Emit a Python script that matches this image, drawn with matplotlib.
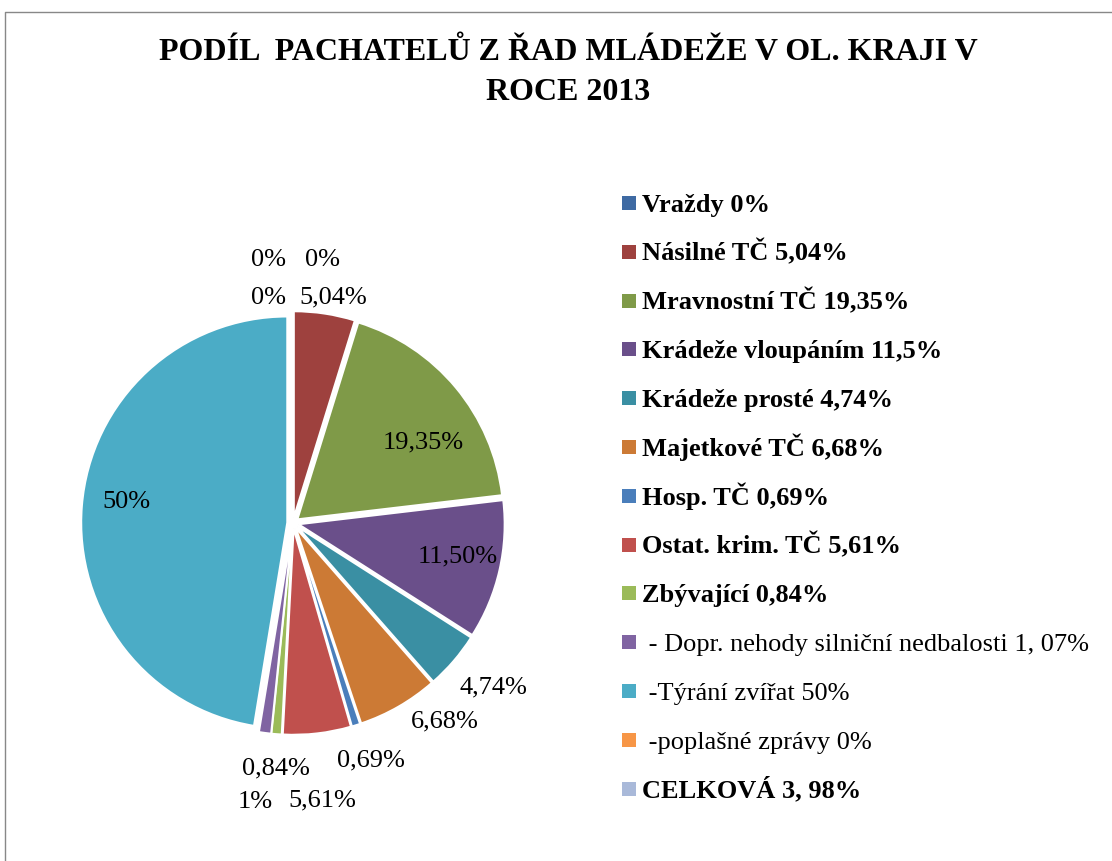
import numpy as np
import matplotlib
matplotlib.use("Agg")
import matplotlib.pyplot as plt
from matplotlib.lines import Line2D
from matplotlib.patches import Rectangle

plt.rcParams['font.family'] = ['Liberation Serif', 'DejaVu Serif']

# data
categories = ["Vraždy 0%", "Násilné TČ 5,04%", "Mravnostní TČ 19,35%",
              "Krádeže vloupáním 11,5%", "Krádeže prosté 4,74%",
              "Majetkové TČ 6,68%", "Hosp. TČ 0,69%", "Ostat. krim. TČ 5,61%",
              "Zbývající 0,84%", " - Dopr. nehody silniční nedbalosti 1, 07%",
              " -Týrání zvířat 50%", " -poplašné zprávy 0%", "CELKOVÁ 3, 98%"]
values = [0, 5.04, 19.35, 11.5, 4.74, 6.68, 0.69, 5.61, 0.84, 1.0, 50, 0, 0]
value_labels = ["0%", "5,04%", "19,35%", "11,50%", "4,74%", "6,68%", "0,69%",
                "5,61%", "0,84%", "1%", "50%", "0%", "0%"]
bold = [True, True, True, True, True, True, True, True, True, False, False, False, True]

colors = ["#3E6AA3", "#9E413E", "#7F9A48", "#6A4F8A", "#3A8FA3", "#CC7A35",
          "#4A7EBB", "#C0504D", "#9BBB59", "#8064A2", "#4BACC6", "#F79646", "#A9B9D9"]

# label placement tweaks (radius factor, angle shift in degrees)
lab_r = [1.26, 1.09, 0.73, 0.80, 1.235, 1.19, 1.19, 1.33, 1.17, 1.34, 0.80, 1.26, 1.08]
lab_da = [-6.3, -1.5, -7.9, 1.5, 1.4, 7.5, 0.8, -0.6, 0.4, -0.2, -2.5, 5.4, 6.3]

W, H = 1112, 861
fig = plt.figure(figsize=(W / 100, H / 100), dpi=100)

# pie axes: centre (293, 522) px, radius 206 px
cx, cy, R = 293, 523, 206
lim = 1.4
side = 2 * lim * R
ax = fig.add_axes([(cx - side / 2) / W, (H - cy - side / 2) / H, side / W, side / H])

wedges, _ = ax.pie(values, colors=colors, startangle=90, counterclock=False,
                   explode=[0.028] * len(values),
                   wedgeprops=dict(edgecolor="white", linewidth=1.4))
ax.set_xlim(-lim, lim)
ax.set_ylim(-lim, lim)
ax.set_aspect("equal")
ax.axis("off")

for w, txt, r, da in zip(wedges, value_labels, lab_r, lab_da):
    ang = np.deg2rad((w.theta1 + w.theta2) / 2 + da)
    r = r * 210 / R
    ax.text(r * np.cos(ang), r * np.sin(ang), txt, ha="center", va="center",
            fontsize=19, color="black")

# title
fig.text(568 / W, 1 - 52 / H, "PODÍL  PACHATELŮ Z ŘAD MLÁDEŽE V OL. KRAJI V",
         ha="center", va="center", fontsize=23, fontweight="bold")
fig.text(568 / W, 1 - 92 / H, "ROCE 2013",
         ha="center", va="center", fontsize=23, fontweight="bold")

# legend (drawn row by row for even spacing)
row0, step, sq = 203, 48.8, 14
for i, (name, c, b) in enumerate(zip(categories, colors, bold)):
    yc = row0 + i * step
    fig.add_artist(Rectangle((622 / W, 1 - (yc + sq / 2) / H), sq / W, sq / H,
                             transform=fig.transFigure, facecolor=c, edgecolor="none"))
    fig.text(642 / W, 1 - (yc + 9) / H, name, ha="left", va="baseline",
             fontsize=19, fontweight="bold" if b else "normal")

# chart border
fig.add_artist(Line2D([5 / W, 5 / W, 1], [0, 1 - 12 / H, 1 - 12 / H],
                      transform=fig.transFigure, color="#888888", lw=1))

fig.savefig("out.png", dpi=100)
